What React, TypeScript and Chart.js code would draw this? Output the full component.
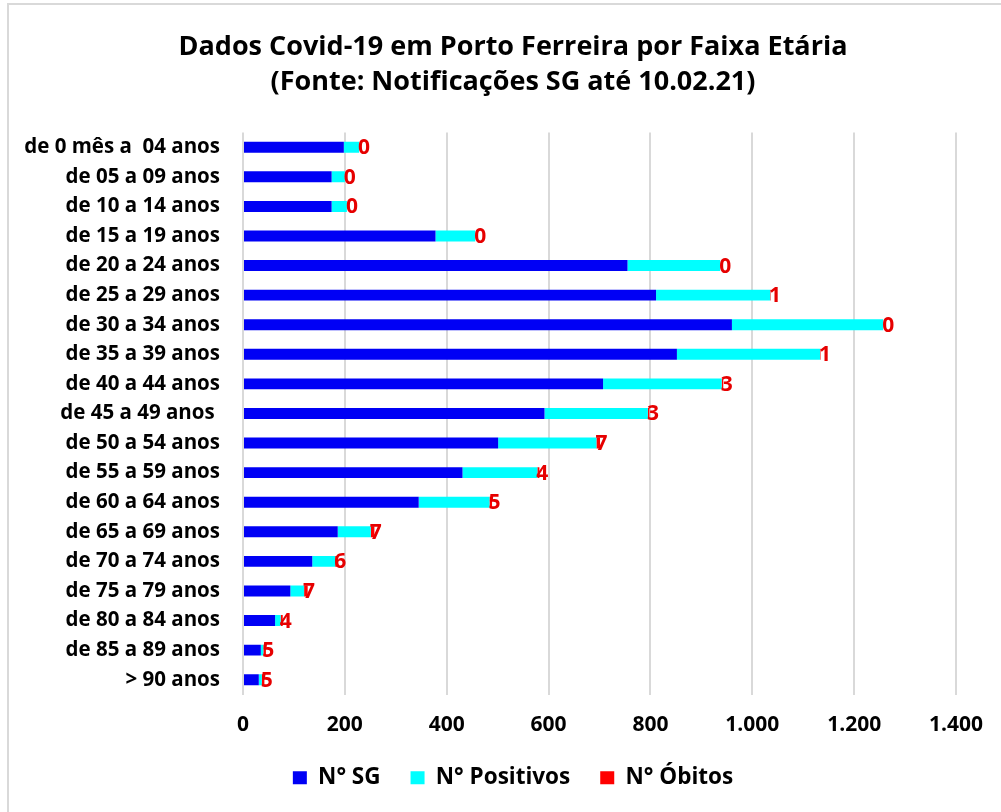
import React, { useEffect, useRef } from "react";
import { Chart, registerables } from "chart.js";

Chart.register(...registerables);

const categories = [
  "de 0 mês a  04 anos",
  "de 05 a 09 anos",
  "de 10 a 14 anos",
  "de 15 a 19 anos",
  "de 20 a 24 anos",
  "de 25 a 29 anos",
  "de 30 a 34 anos",
  "de 35 a 39 anos",
  "de 40 a 44 anos",
  "de 45 a 49 anos ",
  "de 50 a 54 anos",
  "de 55 a 59 anos",
  "de 60 a 64 anos",
  "de 65 a 69 anos",
  "de 70 a 74 anos",
  "de 75 a 79 anos",
  "de 80 a 84 anos",
  "de 85 a 89 anos",
  "> 90 anos",
];

const sgValues = [198, 174, 174, 378, 755, 811, 960, 852, 707, 592, 501, 431, 345, 186, 136, 93, 63, 35, 31];
const positivosValues = [30, 26, 30, 78, 182, 224, 297, 281, 233, 203, 193, 147, 139, 65, 45, 27, 11, 5, 6];
const obitosValues = [0, 0, 0, 0, 0, 1, 0, 1, 3, 3, 7, 4, 5, 7, 6, 7, 4, 5, 5];

const xTicks = [0, 200, 400, 600, 800, 1000, 1200, 1400];

const titleLines = [
  "Dados Covid-19 em Porto Ferreira por Faixa Etária",
  "(Fonte: Notificações SG até 10.02.21)",
];

const FONT = "'Open Sans', 'DejaVu Sans', sans-serif";

const fmt = (v: number) => v.toLocaleString("pt-BR");

const labelPlugin = {
  id: "obitosLabels",
  afterDatasetsDraw(chart: any) {
    const ctx = chart.ctx;
    const xs = chart.scales.x;
    const meta = chart.getDatasetMeta(2);
    ctx.save();
    ctx.font = `bold 21px ${FONT}`;
    ctx.fillStyle = "#E60000";
    ctx.textAlign = "left";
    ctx.textBaseline = "middle";
    meta.data.forEach((el: any, i: number) => {
      const x = xs.getPixelForValue(sgValues[i] + positivosValues[i]);
      ctx.fillText(String(obitosValues[i]), x - 1, el.y + 1);
    });
    ctx.restore();
  },
};

export default function App() {
  const ref = useRef<HTMLCanvasElement | null>(null);

  useEffect(() => {
    if (!ref.current) return;
    Chart.defaults.font.family = FONT;
    const chart = new Chart(ref.current, {
      type: "bar",
      data: {
        labels: categories,
        datasets: [
          { label: "N° SG", data: sgValues, backgroundColor: "#0000F5", barPercentage: 0.37, categoryPercentage: 1 },
          { label: "N° Positivos", data: positivosValues, backgroundColor: "#00FFFF", barPercentage: 0.37, categoryPercentage: 1 },
          { label: "N° Óbitos", data: obitosValues, backgroundColor: "#FF0000", barPercentage: 0.37, categoryPercentage: 1 },
        ],
      },
      options: {
        indexAxis: "y",
        responsive: false,
        animation: false,
        devicePixelRatio: 1,
        layout: { padding: { left: 0, right: 0, top: 0, bottom: 26 } },
        scales: {
          x: {
            stacked: true,
            min: 0,
            max: 1400,
            afterBuildTicks: (scale: any) => {
              scale.ticks = xTicks.map((v) => ({ value: v }));
            },
            afterFit: (scale: any) => {
              scale.height = 42;
            },
            ticks: {
              padding: 18,
              color: "#000",
              font: { size: 21, weight: "bold" },
              callback: (v: any) => fmt(Number(v)),
            },
            grid: { color: "#d9d9d9", lineWidth: 2, drawTicks: false },
            border: { display: false },
          },
          y: {
            stacked: true,
            afterFit: (scale: any) => {
              scale.width = 234;
            },
            ticks: {
              padding: 23,
              color: "#000",
              font: { size: 20.5, weight: "bold" },
              autoSkip: false,
            },
            grid: { display: false, drawTicks: false },
            border: { display: false },
          },
          yRight: {
            type: "category",
            axis: "y",
            position: "right",
            afterFit: (scale: any) => {
              scale.width = 61;
            },
            ticks: { display: false },
            grid: { display: false, drawTicks: false },
            border: { display: false },
          },
        },
        plugins: {
          title: {
            display: true,
            text: titleLines,
            color: "#000",
            font: { size: 27, weight: "bold", lineHeight: 1.3 },
            padding: { top: 24.5, bottom: 32.75 },
          },
          legend: {
            position: "bottom",
            labels: {
              color: "#000",
              font: { size: 22.5, weight: "bold" },
              boxWidth: 14,
              boxHeight: 13,
              padding: 30,
            },
          },
          tooltip: { enabled: false },
        },
      },
      plugins: [labelPlugin],
    } as any);
    return () => chart.destroy();
  }, []);

  return (
    <div style={{ position: "fixed", left: 0, top: 0, width: 1001, height: 812, overflow: "hidden", background: "#fff" }}>
      <div style={{ position: "absolute", left: 7, top: 3, width: 1008, height: 820, border: "2px solid #d9d9d9", background: "#fff" }}>
        <canvas ref={ref} width={1008} height={820} style={{ display: "block", width: 1008, height: 820 }} />
      </div>
    </div>
  );
}
